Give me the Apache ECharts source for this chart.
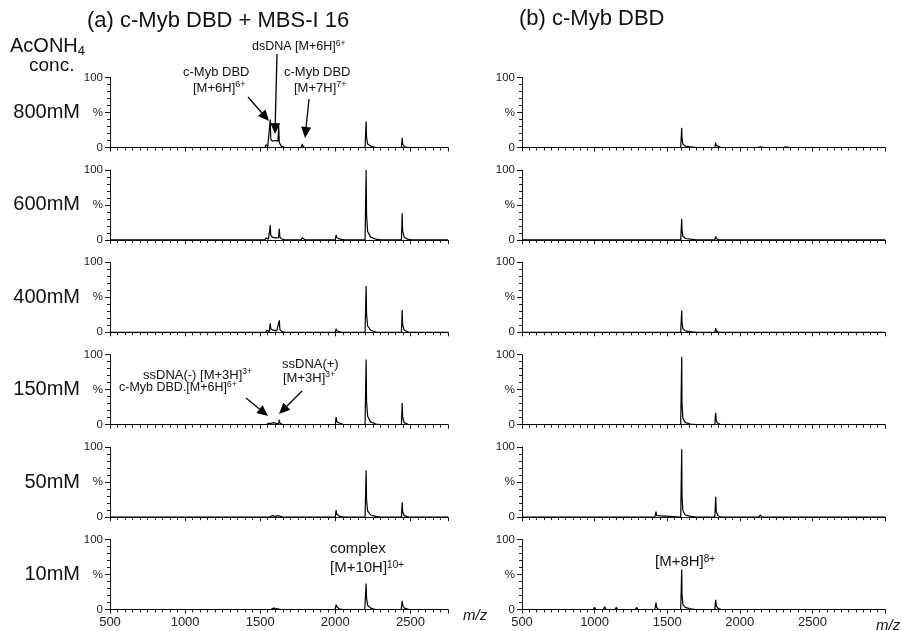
<!DOCTYPE html>
<html><head><meta charset="utf-8">
<script src="https://cdn.jsdelivr.net/npm/echarts@6/dist/echarts.min.js"></script>
<style>html,body{margin:0;padding:0;background:#fff}#c{width:901px;height:631px}</style>
</head><body><div id="c"></div>
<script>
// Row labels (AcONH4 concentration)
const rows = ['800mM','600mM','400mM','150mM','50mM','10mM'];
// x tick label values
const xTicks = [500,1000,1500,2000,2500];
const yTicks = [0,50,100];

// (a) c-Myb DBD + MBS-I 16 : [m/z, %]
const a800 = [[500,0],[1530,0],[1540,4],[1550,1],[1562,0],[1567,40],[1570,12],[1580,9],[1600,10],[1618,9],[1623,31],[1627,7],[1640,2],[1660,0],[1772,0],[1780,5],[1786,1],[1800,0],[2198,0],[2205,37],[2208,14],[2215,5],[2235,2],[2270,0],[2440,0],[2445,14],[2448,5],[2460,1],[2490,0],[2750,0]];
const a600 = [[500,0],[1530,0],[1540,3],[1555,1],[1562,0],[1567,21],[1570,7],[1580,4],[1600,3],[1622,3],[1627,16],[1631,4],[1645,1],[1665,0],[1770,0],[1780,3],[1790,1],[1800,0],[2000,0],[2005,7],[2010,3],[2030,1],[2060,0],[2198,0],[2205,100],[2208,35],[2215,12],[2235,4],[2270,1],[2300,0],[2440,0],[2445,38],[2448,13],[2458,4],[2480,1],[2510,0],[2750,0]];
const a400 = [[500,0],[1535,0],[1545,3],[1560,1],[1563,0],[1567,13],[1570,5],[1585,3],[1610,2],[1622,3],[1627,17],[1631,4],[1645,1],[1665,0],[1770,0],[1780,2],[1795,0],[2000,0],[2005,5],[2010,2],[2040,0],[2198,0],[2205,66],[2208,25],[2215,9],[2235,3],[2275,0],[2440,0],[2445,32],[2448,11],[2458,3],[2490,0],[2750,0]];
const a150 = [[500,0],[1540,0],[1555,2],[1567,4],[1575,2],[1590,3],[1600,1],[1622,1],[1627,7],[1632,2],[1650,0],[2000,0],[2005,11],[2010,4],[2030,2],[2060,0],[2198,0],[2205,93],[2208,33],[2215,12],[2235,4],[2270,1],[2300,0],[2440,0],[2445,31],[2448,11],[2458,3],[2490,0],[2750,0]];
const a50 = [[500,0],[1560,0],[1580,2],[1600,1],[1625,2],[1650,0],[2000,0],[2005,10],[2010,4],[2030,1],[2060,0],[2198,0],[2205,67],[2208,24],[2215,9],[2235,3],[2270,1],[2300,0],[2440,0],[2445,21],[2448,8],[2458,2],[2490,0],[2750,0]];
const a10 = [[500,0],[1570,0],[1590,2],[1615,1],[1640,0],[1998,0],[2005,7],[2010,4],[2025,1],[2050,0],[2196,0],[2205,37],[2208,16],[2215,6],[2235,2],[2270,0],[2438,0],[2445,12],[2450,5],[2460,2],[2490,0],[2640,0],[2650,2],[2660,0],[2750,0]];

// (b) c-Myb DBD
const b800 = [[500,0],[1593,0],[1600,28],[1602,13],[1608,5],[1625,2],[1660,1],[1700,0],[1828,0],[1834,7],[1838,3],[1850,1],[1870,0],[2120,0],[2140,1],[2170,0],[2300,0],[2320,1],[2340,0],[3000,0]];
const b600 = [[500,0],[1593,0],[1600,30],[1602,14],[1608,5],[1625,2],[1660,1],[1700,0],[1828,0],[1834,5],[1838,2],[1855,0],[3000,0]];
const b400 = [[500,0],[1593,0],[1600,31],[1602,14],[1608,5],[1625,2],[1660,1],[1700,0],[1828,0],[1834,6],[1838,2],[1855,0],[3000,0]];
const b150 = [[500,0],[1593,0],[1600,97],[1602,30],[1608,9],[1625,3],[1660,1],[1700,0],[1828,0],[1834,17],[1838,5],[1850,2],[1870,0],[3000,0]];
const b50 = [[500,0],[1415,0],[1423,8],[1427,2],[1440,0],[1593,0],[1600,97],[1602,30],[1608,9],[1625,3],[1660,1],[1700,0],[1828,0],[1834,29],[1838,8],[1850,2],[1870,0],[2130,0],[2140,3],[2155,0],[2320,0],[2330,2],[2345,0],[3000,0]];
const b10 = [[500,0],[990,0],[1000,3],[1008,0],[1060,0],[1070,4],[1078,0],[1140,0],[1150,3],[1158,0],[1280,0],[1290,3],[1298,0],[1415,0],[1423,10],[1427,3],[1440,0],[1593,0],[1600,57],[1602,22],[1608,7],[1625,3],[1660,1],[1700,0],[1828,0],[1834,14],[1838,5],[1850,2],[1870,0],[2130,0],[2140,2],[2155,0],[3000,0]];

const seriesA = [a800,a600,a400,a150,a50,a10];
const seriesB = [b800,b600,b400,b150,b50,b10];

const FONT = '"Liberation Sans", Arial, sans-serif';
const TOP0 = 77.5, STEP = 92.4, H = 70;
const grids = [], xAxes = [], yAxes = [], series = [];
const cols = [{left:110,width:338,max:2750,data:seriesA},{left:522,width:363,max:3000,data:seriesB}];
let gi = 0;
cols.forEach((col) => {
  for (let r = 0; r < 6; r++) {
    grids.push({left: col.left, width: col.width, top: TOP0 + STEP*r, height: H});
    const bottom = r === 5;
    xAxes.push({
      type:'value', gridIndex: gi, min: 500, max: col.max, interval: 500,
      axisLine:{show:true, onZero:false, lineStyle:{color:'#111', width:1.2}},
      axisTick:{show:true, length:4, lineStyle:{color:'#111'}},
      minorTick:{show:true, splitNumber:10, length:3, lineStyle:{color:'#222'}},
      splitLine:{show:false},
      axisLabel:{show: bottom, color:'#222', fontSize:13, fontFamily:FONT, margin:6,
        formatter: v => xTicks.indexOf(v) >= 0 ? String(v) : ''},
    });
    yAxes.push({
      type:'value', gridIndex: gi, min: 0, max: 100, interval: 50,
      axisLine:{show:true, lineStyle:{color:'#111', width:1}},
      axisTick:{show:true, length:5, lineStyle:{color:'#111'}},
      minorTick:{show:true, splitNumber:5, length:3, lineStyle:{color:'#222'}},
      splitLine:{show:false},
      axisLabel:{color:'#222', fontSize:11.5, fontFamily:FONT, margin:7,
        formatter: v => v === 50 ? '%' : (yTicks.indexOf(v) >= 0 ? String(v) : '')},
    });
    series.push({
      type:'line', xAxisIndex: gi, yAxisIndex: gi, data: col.data[r],
      symbol:'none', lineStyle:{color:'#000', width:1.2}, silent:true, animation:false
    });
    gi++;
  }
});

function txt(x, y, text, size, rich, extra) {
  return Object.assign({type:'text', x:x, y:y, style:{text:text, font: size+'px '+FONT, fill:'#111',
    verticalAlign:'middle', rich: rich || {}}}, extra || {});
}
function arrow(x1,y1,x2,y2) {
  const dx = x2-x1, dy = y2-y1, L = Math.hypot(dx,dy), ux = dx/L, uy = dy/L;
  const hl = 11, hw = 5;
  const bx = x2-ux*hl, by = y2-uy*hl;
  return [
    {type:'line', shape:{x1:x1,y1:y1,x2:bx,y2:by}, style:{stroke:'#000', lineWidth:1.3}},
    {type:'polygon', shape:{points:[[x2,y2],[bx-uy*hw,by+ux*hw],[bx+uy*hw,by-ux*hw]]}, style:{fill:'#000'}}
  ];
}
const sup = (s) => ({fontSize: s, fontFamily: FONT, fill:'#111', verticalAlign:'top', padding:[0,0,6,0]});
const base = (s) => ({fontSize: s, fontFamily: FONT, fill:'#111'});

const graphic = [];
graphic.push(txt(87, 21, '(a) c-Myb DBD + MBS-I 16', 22));
graphic.push(txt(519, 19, '(b) c-Myb DBD', 22));
graphic.push(txt(10, 46, '{b|AcONH}{s|4}', 20, {b:base(20), s:{fontSize:13, fontFamily:FONT, fill:'#111', padding:[10,0,0,0]}}));
graphic.push(txt(29, 66, 'conc.', 19));
rows.forEach((lab, r) => {
  graphic.push(txt(80, TOP0 + STEP*r + H/2, lab, 20, null, {style:{text:lab, font:'20px '+FONT, fill:'#111', align:'right', verticalAlign:'middle'}}));
});
// annotations (a) 800mM
graphic.push(txt(252, 47, '{b|dsDNA [M+6H]}{s|6+}', 12.5, {b:base(12.5), s:sup(8.5)}));
graphic.push(txt(183, 72, 'c-Myb DBD', 13));
graphic.push(txt(193, 88, '{b|[M+6H]}{s|6+}', 13, {b:base(13), s:sup(9)}));
graphic.push(txt(284, 72, 'c-Myb DBD', 13));
graphic.push(txt(294, 88, '{b|[M+7H]}{s|7+}', 13, {b:base(13), s:sup(9)}));
arrow(248,97,269,121).forEach(g=>graphic.push(g));
arrow(277,54,275,134).forEach(g=>graphic.push(g));
arrow(309,99,305,138).forEach(g=>graphic.push(g));
// annotations (a) 150mM
graphic.push(txt(143, 375, '{b|ssDNA(-) [M+3H]}{s|3+}', 13, {b:base(13), s:sup(8.5)}));
graphic.push(txt(119, 388, '{b|c-Myb DBD.[M+6H]}{s|6+}', 12.5, {b:base(12.5), s:sup(8.5)}));
graphic.push(txt(282, 364, 'ssDNA(+)', 13));
graphic.push(txt(283, 378, '{b|[M+3H]}{s|3+}', 13, {b:base(13), s:sup(8.5)}));
arrow(246,398,268,416).forEach(g=>graphic.push(g));
arrow(302,391,279,414).forEach(g=>graphic.push(g));
// annotations (a) 10mM and (b) 10mM
graphic.push(txt(330, 549, 'complex', 15));
graphic.push(txt(330, 568, '{b|[M+10H]}{s|10+}', 15, {b:base(15), s:sup(10)}));
graphic.push(txt(655, 562, '{b|[M+8H]}{s|8+}', 15, {b:base(15), s:sup(10)}));
// m/z labels
graphic.push(txt(463, 616, 'm/z', 15, null, {style:{text:'m/z', font:'italic 15px '+FONT, fill:'#111', verticalAlign:'middle'}}));
graphic.push(txt(876, 626, 'm/z', 15, null, {style:{text:'m/z', font:'italic 15px '+FONT, fill:'#111', verticalAlign:'middle'}}));

const chart = echarts.init(document.getElementById('c'), null, {renderer:'canvas'});
chart.setOption({
  backgroundColor:'#fff', animation:false,
  grid: grids, xAxis: xAxes, yAxis: yAxes, series: series, graphic: graphic
});
</script></body></html>
